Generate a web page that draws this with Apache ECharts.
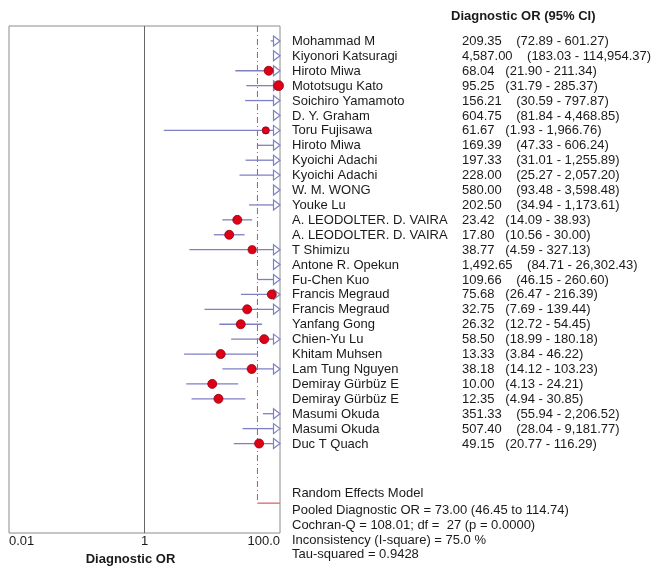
<!DOCTYPE html>
<html><head><meta charset="utf-8">
<script src="https://cdn.jsdelivr.net/npm/echarts@6/dist/echarts.min.js"></script>
<style>html,body{margin:0;padding:0;background:#fff}#c{width:653px;height:571px}</style>
</head><body><div id="c"></div>
<script>
const studyNames = ["Mohammad M","Kiyonori Katsuragi","Hiroto Miwa","Mototsugu Kato","Soichiro Yamamoto","D. Y. Graham","Toru Fujisawa","Hiroto Miwa","Kyoichi Adachi","Kyoichi Adachi","W. M. WONG","Youke Lu","A. LEODOLTER. D. VAIRA","A. LEODOLTER. D. VAIRA","T Shimizu","Antone R. Opekun","Fu-Chen Kuo","Francis Megraud","Francis Megraud","Yanfang Gong","Chien-Yu Lu","Khitam Muhsen","Lam Tung Nguyen","Demiray Gürbüz E","Demiray Gürbüz E","Masumi Okuda","Masumi Okuda","Duc T Quach"];
const diagOR  = [209.35,4587.00,68.04,95.25,156.21,604.75,61.67,169.39,197.33,228.00,580.00,202.50,23.42,17.80,38.77,1492.65,109.66,75.68,32.75,26.32,58.50,13.33,38.18,10.00,12.35,351.33,507.40,49.15];
const ciLower = [72.89,183.03,21.90,31.79,30.59,81.84,1.93,47.33,31.01,25.27,93.48,34.94,14.09,10.56,4.59,84.71,46.15,26.47,7.69,12.72,18.99,3.84,14.12,4.13,4.94,55.94,28.04,20.77];
const ciUpper = [601.27,114954.37,211.34,285.37,797.87,4468.85,1966.76,606.24,1255.89,2057.20,3598.48,1173.61,38.93,30.00,327.13,26302.43,260.60,216.39,139.44,54.45,180.18,46.22,103.23,24.21,30.85,2206.52,9181.77,116.29];
const studyWeight = [1,1,1,1.1,1,1,0.8,1,1,1,1,1,1,1,0.9,1,1,1,1,1,1,1,1,1,1,1,1,1];
const pooledOR = 73.00, pooledLower = 46.45, pooledUpper = 114.74;
const pooledRow = 31;
const axisMin = 0.01, axisMax = 100;
const xTickLabels = {"-2":"0.01","0":"1","2":"100.0"};
const headerText = "Diagnostic OR (95% CI)";
const axisTitle = "Diagnostic OR";
const summaryLines = ["Random Effects Model","Pooled Diagnostic OR = 73.00 (46.45 to 114.74)","Cochran-Q = 108.01; df =  27 (p = 0.0000)","Inconsistency (I-square) = 75.0 %","Tau-squared = 0.9428"];

const FONT = "'Liberation Sans', Arial, sans-serif";
const TXT = '#1a1a1a';
const BLUE = '#7f7fc4';
function fmt(v){return v.toLocaleString('en-US',{minimumFractionDigits:2,maximumFractionDigits:2});}

const studyData = studyNames.map((n,i)=>[i, diagOR[i], ciLower[i], ciUpper[i], studyWeight[i]]);

function renderStudy(params, api){
  const row = api.value(0), or = api.value(1), lo = api.value(2), hi = api.value(3), w = api.value(4);
  const xR = api.coord([axisMax,row])[0];
  const y = api.coord([1,row])[1];
  const children = [];
  if (lo < axisMax){
    const x1 = api.coord([Math.max(lo,axisMin),row])[0];
    const x2 = hi > axisMax ? xR - 6 : api.coord([hi,row])[0];
    children.push({type:'line',shape:{x1:x1,y1:y,x2:x2,y2:y},style:{stroke:BLUE,lineWidth:1.3}});
  }
  if (hi > axisMax){
    children.push({type:'polygon',shape:{points:[[xR-6.5,y-5],[xR,y],[xR-6.5,y+5]]},style:{fill:'#fff',stroke:BLUE,lineWidth:1.2}});
  }
  if (or < axisMax){
    const p = api.coord([or,row]);
    children.push({type:'circle',shape:{cx:p[0],cy:p[1],r:4.5*w},style:{fill:'#e00016',stroke:'#8a0010',lineWidth:0.8}});
  }
  return {type:'group',children:children};
}

function renderTable(params, api){
  const i = params.dataIndex;
  const y = api.coord([1,api.value(0)])[1] + 0.5;
  const vs = fmt(diagOR[i]);
  const gap = vs.length <= 5 ? '   ' : '    ';
  return {type:'group',children:[
    {type:'text',style:{x:292,y:y,text:studyNames[i],fill:TXT,font:'13px '+FONT,verticalAlign:'middle'}},
    {type:'text',style:{x:462,y:y,text:vs+gap+'('+fmt(ciLower[i])+' - '+fmt(ciUpper[i])+')',fill:TXT,font:'13px '+FONT,verticalAlign:'middle'}}
  ]};
}

function renderPooled(params, api){
  const top = api.coord([pooledLower,-1]);
  const bot = api.coord([pooledLower,pooledRow]);
  const xEnd = api.coord([Math.min(pooledUpper,axisMax),pooledRow])[0];
  return {type:'group',children:[
    {type:'line',shape:{x1:top[0],y1:top[1],x2:bot[0],y2:bot[1]},style:{stroke:'#d04a55',lineWidth:1,lineDash:[6,3,1,3]}},
    {type:'line',shape:{x1:bot[0],y1:bot[1],x2:xEnd,y2:bot[1]},style:{stroke:'#e07a80',lineWidth:1.5}}
  ]};
}

const chart = echarts.init(document.getElementById('c'),null,{renderer:'canvas'});
chart.setOption({
  animation:false,
  backgroundColor:'#fff',
  grid:{left:9,top:26,width:271,height:507,show:true,borderColor:'#8c8c8c',borderWidth:1,backgroundColor:'transparent'},
  xAxis:{type:'log',logBase:10,min:axisMin,max:axisMax,
    axisLine:{show:false},axisTick:{show:false},splitLine:{show:false},
    axisLabel:{show:true,margin:2,fontSize:13,fontFamily:FONT,color:TXT,alignMinLabel:'left',alignMaxLabel:'right',
      formatter:function(v){const k=String(Math.round(Math.log10(v)));return xTickLabels[k]||'';}},
    name:axisTitle,nameLocation:'middle',nameGap:17,
    nameTextStyle:{fontSize:13,fontWeight:'bold',fontFamily:FONT,color:TXT,padding:[0,28,0,0]}},
  yAxis:{type:'value',inverse:true,min:-1,max:33,show:false},
  graphic:[
    {type:'text',left:451,top:10,style:{text:headerText,font:'bold 13px '+FONT,fill:TXT}}
  ].concat(summaryLines.map((t,k)=>({type:'text',left:292,top:[494,511,526,541,555][k]-7,style:{text:t,font:'13px '+FONT,fill:TXT}}))),
  series:[
    {type:'line',data:[],markLine:{silent:true,symbol:'none',label:{show:false},lineStyle:{color:'#666666',type:'solid',width:1},data:[{xAxis:1}]}},
    {type:'custom',renderItem:renderPooled,data:[[pooledLower,pooledRow]],clip:false,z:2},
    {type:'custom',renderItem:renderStudy,data:studyData,clip:false,z:3},
    {type:'custom',renderItem:renderTable,data:studyData,clip:false,z:3}
  ]
});
</script></body></html>
